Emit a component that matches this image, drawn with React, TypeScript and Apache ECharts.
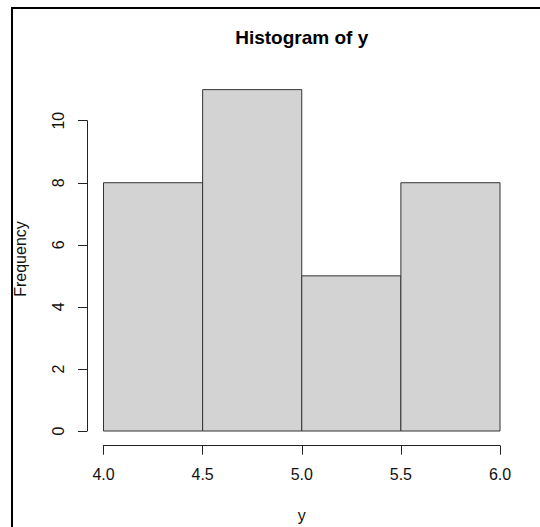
import React, { useEffect, useRef } from "react";
import * as echarts from "echarts";

const binStarts = [4.0, 4.5, 5.0, 5.5];
const binEnds = [4.5, 5.0, 5.5, 6.0];
const frequencies = [8, 11, 5, 8];
const titleText = "Histogram of y";
const xLabel = "y";
const yLabel = "Frequency";

const FONT = "'Liberation Sans', Arial, sans-serif";

export default function App() {
  const ref = useRef<HTMLDivElement>(null);
  useEffect(() => {
    if (!ref.current) return;
    const chart = echarts.init(ref.current, undefined, { renderer: "svg" });
    const data = binStarts.map((s, i) => [s, binEnds[i], frequencies[i]]);
    const left = 103.5;
    const right = 40;
    const bottom = 96;
    chart.setOption({
      animation: false,
      backgroundColor: "#ffffff",
      grid: [
        { left, right, top: 58.6, bottom },
        { left, right, top: 120.7, bottom },
      ],
      xAxis: [
        {
          type: "value",
          gridIndex: 0,
          min: 4,
          max: 6,
          interval: 0.5,
          offset: 14.7,
          axisLine: { show: true, onZero: false, lineStyle: { color: "#222", width: 1 } },
          axisTick: { show: true, length: 9, lineStyle: { color: "#222" } },
          axisLabel: {
            margin: 21,
            color: "#111",
            fontSize: 16,
            fontFamily: FONT,
            formatter: (v: number) => v.toFixed(1),
          },
          splitLine: { show: false },
        },
        { type: "value", gridIndex: 1, min: 4, max: 6, show: false },
      ],
      yAxis: [
        { type: "value", gridIndex: 0, min: 0, max: 12, show: false },
        {
          type: "value",
          gridIndex: 1,
          min: 0,
          max: 10,
          interval: 2,
          offset: 16.5,
          axisLine: { show: true, onZero: false, lineStyle: { color: "#222", width: 1 } },
          axisTick: { show: true, length: 9, lineStyle: { color: "#222" } },
          axisLabel: {
            rotate: 90,
            margin: 21,
            align: "center",
            verticalAlign: "bottom",
            color: "#111",
            fontSize: 16,
            fontFamily: FONT,
          },
          splitLine: { show: false },
        },
      ],
      series: [
        {
          type: "custom",
          xAxisIndex: 0,
          yAxisIndex: 0,
          data,
          encode: { x: [0, 1], y: 2 },
          renderItem: (params: any, api: any) => {
            const p0 = api.coord([api.value(0), api.value(2)]);
            const p1 = api.coord([api.value(1), 0]);
            return {
              type: "rect",
              shape: { x: p0[0], y: p0[1], width: p1[0] - p0[0], height: p1[1] - p0[1] },
              style: { fill: "#D3D3D3", stroke: "#333", lineWidth: 1 },
            };
          },
        },
      ],
      graphic: [
        {
          type: "polyline",
          shape: { points: [[12, 527], [12, 8], [540, 8]] },
          style: { stroke: "#000", lineWidth: 2, fill: "none" },
          silent: true,
        },
        {
          type: "text",
          x: 301.7,
          y: 37,
          style: {
            text: titleText,
            align: "center",
            verticalAlign: "middle",
            fontSize: 19,
            fontWeight: "bold",
            fontFamily: FONT,
            fill: "#000",
          },
        },
        {
          type: "text",
          x: 301.7,
          y: 515,
          style: {
            text: xLabel,
            align: "center",
            verticalAlign: "middle",
            fontSize: 16,
            fontFamily: FONT,
            fill: "#111",
          },
        },
        {
          type: "text",
          x: 20,
          y: 259,
          rotation: Math.PI / 2,
          style: {
            text: yLabel,
            align: "center",
            verticalAlign: "middle",
            fontSize: 16,
            fontFamily: FONT,
            fill: "#111",
          },
        },
      ],
    });
    return () => chart.dispose();
  }, []);
  return (
    <div
      ref={ref}
      style={{ position: "fixed", left: 0, top: 0, width: 540, height: 527 }}
    />
  );
}
